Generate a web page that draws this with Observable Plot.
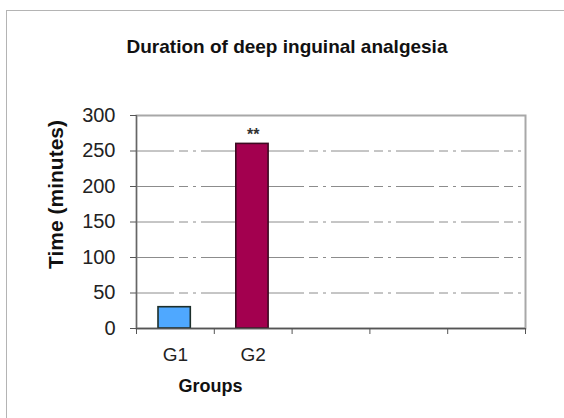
<!DOCTYPE html>
<html>
<head>
<meta charset="utf-8">
<script src="https://cdn.jsdelivr.net/npm/d3@7"></script>
<script src="https://cdn.jsdelivr.net/npm/@observablehq/plot@0.6"></script>
<style>
  html, body { margin: 0; padding: 0; background: #fff; }
  #wrap { position: relative; width: 564px; height: 418px; overflow: hidden; }
  #border { position: absolute; left: 6px; top: 10px; width: 600px; height: 500px;
            border-left: 1.5px solid #b4b4b4; border-top: 1.5px solid #b4b4b4; }
  #chart { position: absolute; left: 0; top: 0; }
</style>
</head>
<body>
<div id="wrap"><div id="border"></div><div id="chart"></div></div>
<script>
const title = "Duration of deep inguinal analgesia";
const yLabel = "Time (minutes)";
const xLabel = "Groups";
const categories = ["G1", "G2"];
const values = [30, 260];
const significance = ["", "**"];
const fills = ["#4fa8ff", "#a3004f"];
const strokes = ["#1c2e2a", "#3d0a22"];
const slotCount = 5;
const yTicks = [0, 50, 100, 150, 200, 250, 300];
const gridTicks = [50, 100, 150, 200, 250];

const data = categories.map((c, i) => ({
  cat: c, i, value: values[i], sig: significance[i], fill: fills[i], stroke: strokes[i]
}));
const slotEdges = d3.range(0, slotCount + 1);

const font = "'Liberation Sans', Arial, sans-serif";

const chart = Plot.plot({
  width: 564,
  height: 418,
  marginLeft: 136,
  marginRight: 39,
  marginTop: 115,
  marginBottom: 90,
  style: { fontFamily: font, fontSize: "19px", color: "#222", background: "transparent", overflow: "visible" },
  x: { type: "linear", domain: [0, slotCount], axis: null },
  y: { domain: [0, 300], axis: null },
  marks: [
    Plot.frame({ stroke: "#a8a8a8", strokeWidth: 2 }),
    Plot.ruleY(gridTicks, { stroke: "#8c8c8c", strokeWidth: 1, strokeDasharray: "38 5 9 5 3 5" }),
    Plot.rectY(data, {
      x1: d => d.i, x2: d => d.i + 1, y1: 0, y2: "value",
      insetLeft: 22, insetRight: 23.5,
      fill: d => d.fill, stroke: d => d.stroke, strokeWidth: 1.6
    }),
    Plot.ruleX([0], { stroke: "#666", strokeWidth: 1.2 }),
    Plot.ruleY([0], { stroke: "#555", strokeWidth: 1.5 }),
    Plot.axisY({ ticks: yTicks, tickSize: 6, tickPadding: 15, label: null, fontSize: 20, stroke: "#555" }),
    Plot.axisX({ ticks: slotEdges, tickSize: 6, tickFormat: () => "", label: null, stroke: "#555" }),
    Plot.text(data, {
      x: d => d.i + 0.5, text: "cat", frameAnchor: "bottom", lineAnchor: "bottom",
      dy: 32, fontSize: 19, fill: "#222"
    }),
    Plot.text(data, {
      x: d => d.i + 0.5, y: "value", text: "sig", lineAnchor: "bottom",
      dy: -4, fontSize: 16, fontWeight: "bold", fill: "#333"
    }),
    Plot.text([title], {
      text: d => d, frameAnchor: "top", lineAnchor: "bottom",
      dx: -44, dy: -62.3, fontSize: 19, fontWeight: "bold", fill: "#111"
    }),
    Plot.text([yLabel], {
      text: d => d, frameAnchor: "left", textAnchor: "middle", rotate: -90, lineAnchor: "middle",
      dx: -80, dy: -27.5, fontSize: 21, fontWeight: "bold", fill: "#111"
    }),
    Plot.text([xLabel], {
      text: d => d, frameAnchor: "bottom", lineAnchor: "bottom",
      dx: -120.5, dy: 63.7, fontSize: 18, fontWeight: "bold", fill: "#111"
    })
  ]
});
document.getElementById("chart").appendChild(chart);
</script>
</body>
</html>
